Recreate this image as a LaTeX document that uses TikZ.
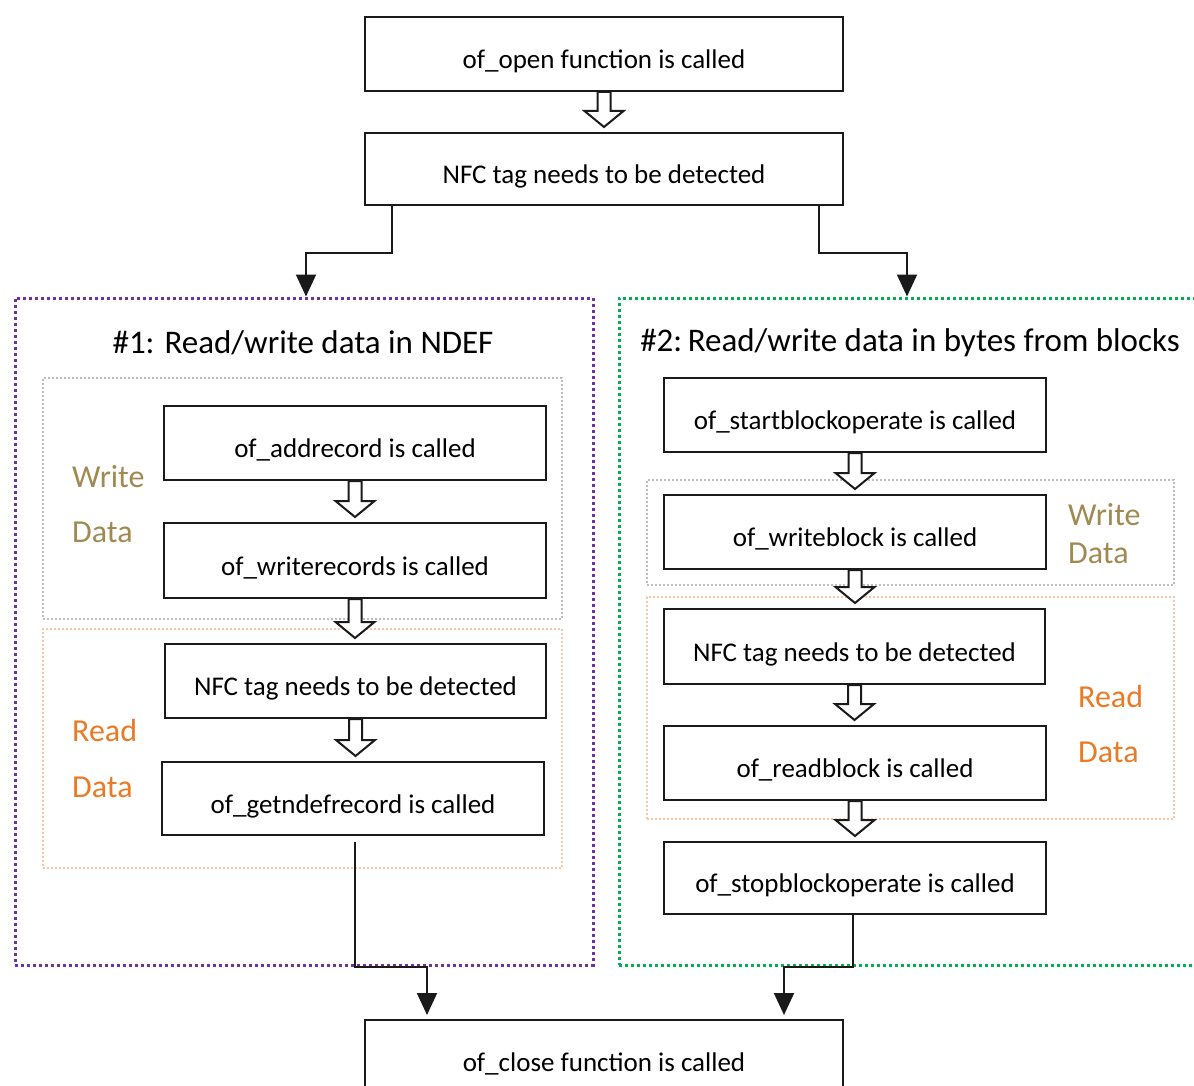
\documentclass[tikz,border=0pt]{standalone}
\usepackage{fontspec}
\setmainfont{Carlito}
\usetikzlibrary{arrows.meta,calc}
\definecolor{olivetxt}{HTML}{A08A52}
\definecolor{orangetxt}{HTML}{EB7A25}
\definecolor{orangedot}{HTML}{F8C8A4}
\definecolor{graydot}{HTML}{BDBDBD}
\definecolor{purpledot}{HTML}{7030A0}
\definecolor{greendot}{HTML}{00B050}
\definecolor{linecol}{HTML}{1A1A1A}
\tikzset{
  stepbox/.style={draw=linecol, line width=2pt, fill=white, minimum height=74pt,
    inner sep=0pt, font=\fontsize{27}{30}\selectfont, text height=29pt, text depth=0pt},
  groupbig/.style={line width=3pt, dash pattern=on 3pt off 3pt, inner sep=0pt},
  groupsmall/.style={line width=2pt, dash pattern=on 2pt off 2pt, inner sep=0pt},
  conn/.style={draw=linecol, line width=2pt, -{Triangle[width=20pt,length=22pt]}},
  hollowarr/.style={draw=linecol, line width=2pt, fill=white, line join=miter},
  grouptitle/.style={font=\fontsize{33}{36}\selectfont},
  wlabel/.style={font=\fontsize{32}{34}\selectfont, text=olivetxt, anchor=west, inner sep=0pt},
  rlabel/.style={font=\fontsize{32}{34}\selectfont, text=orangetxt, anchor=west, inner sep=0pt},
}
\newcommand{\harrow}[2]{%
  \draw[hollowarr] let \p1=(#1.south), \p2=(#2.north) in
    (\x1-6.5pt,\y1) -- (\x1-6.5pt,\y2+21pt) -- (\x1-19.5pt,\y2+21pt) -- (\x1,\y2+5pt)
    -- (\x1+19.5pt,\y2+21pt) -- (\x1+6.5pt,\y2+21pt) -- (\x1+6.5pt,\y1) -- cycle;}
\begin{document}
\begin{tikzpicture}[x=1pt,y=-1pt]
\useasboundingbox (0,0) rectangle (1194,1086);
\clip (0,0) rectangle (1194,1086);
\fill[white] (0,0) rectangle (1194,1086);

% group frames
\node[groupbig, draw=purpledot, minimum width=578pt, minimum height=667pt] (g1) at (304,631.5) {};
\node[groupbig, draw=greendot, minimum width=576pt, minimum height=667pt] (g2) at (907,631.5) {};
\node[groupsmall, draw=graydot, minimum width=519pt, minimum height=241pt] (w1) at (302.5,498.5) {};
\node[groupsmall, draw=orangedot, minimum width=519pt, minimum height=239pt] (r1) at (302.5,748.5) {};
\node[groupsmall, draw=graydot, minimum width=527pt, minimum height=105pt] (w2) at (910.5,532.5) {};
\node[groupsmall, draw=orangedot, minimum width=527pt, minimum height=222pt] (r2) at (910.5,708) {};

% titles and labels
\node[grouptitle] (t1) at (303,343) {\#1: Read/write data in NDEF};
\node[grouptitle] (t2) at (910,343) {\#2:\,Read/write data in bytes from blocks};
\node[wlabel] (lw1a) at (72,477) {Write};
\node[wlabel] (lw1b) at (72,532) {Data};
\node[rlabel] (lr1a) at (72,731) {Read};
\node[rlabel] (lr1b) at (72,787) {Data};
\node[wlabel] (lw2a) at (1068,515) {Write};
\node[wlabel] (lw2b) at (1068,553) {Data};
\node[rlabel] (lr2a) at (1078,697) {Read};
\node[rlabel] (lr2b) at (1078,752) {Data};

% boxes
\node[stepbox, minimum width=478pt] (open) at (604,54) {of\_open function is called};
\node[stepbox, minimum width=478pt, minimum height=72pt] (nfc0) at (604,169) {NFC tag needs to be detected};
\node[stepbox, minimum width=382pt] (add) at (355,443) {of\_addrecord is called};
\node[stepbox, minimum width=382pt, minimum height=75pt] (wrec) at (355,560.5) {of\_writerecords is called};
\node[stepbox, minimum width=381pt] (nfc1) at (355.5,681) {NFC tag needs to be detected};
\node[stepbox, minimum width=382pt, minimum height=73pt] (getn) at (353,798.5) {of\_getndefrecord is called};
\node[stepbox, minimum width=382pt] (start) at (855,415) {of\_startblockoperate is called};
\node[stepbox, minimum width=382pt] (wblk) at (855,532) {of\_writeblock is called};
\node[stepbox, minimum width=381pt, minimum height=75pt] (nfc2) at (854.5,646.5) {NFC tag needs to be detected};
\node[stepbox, minimum width=382pt] (rblk) at (855,763) {of\_readblock is called};
\node[stepbox, minimum width=382pt, minimum height=72pt] (stop) at (855,878) {of\_stopblockoperate is called};
\node[stepbox, minimum width=478pt] (close) at (604,1057) {of\_close function is called};

% hollow arrows
\harrow{open}{nfc0}
\harrow{add}{wrec}
\harrow{wrec}{nfc1}
\harrow{nfc1}{getn}
\harrow{start}{wblk}
\harrow{wblk}{nfc2}
\harrow{nfc2}{rblk}
\harrow{rblk}{stop}

% connectors
\coordinate (c1) at ([xshift=2pt]g1.north);
\draw[conn] ([xshift=28pt]nfc0.south west) -- ++(0,47) -| (c1);
\draw[conn] ([xshift=-25pt]nfc0.south east) -- ++(0,47) -| (g2.north);
\coordinate (s3) at ([xshift=2pt,yshift=-6pt]getn.south);
\coordinate (s4) at ([xshift=-2pt]stop.south);
\coordinate (c3) at ([xshift=-177pt,yshift=4pt]close.north);
\coordinate (c4) at ([xshift=180pt,yshift=4pt]close.north);
\draw[conn] (s3) -- (s3 |- g1.south) -| (c3);
\draw[conn] (s4) -- (s4 |- g2.south) -| (c4);
\end{tikzpicture}
\end{document}
